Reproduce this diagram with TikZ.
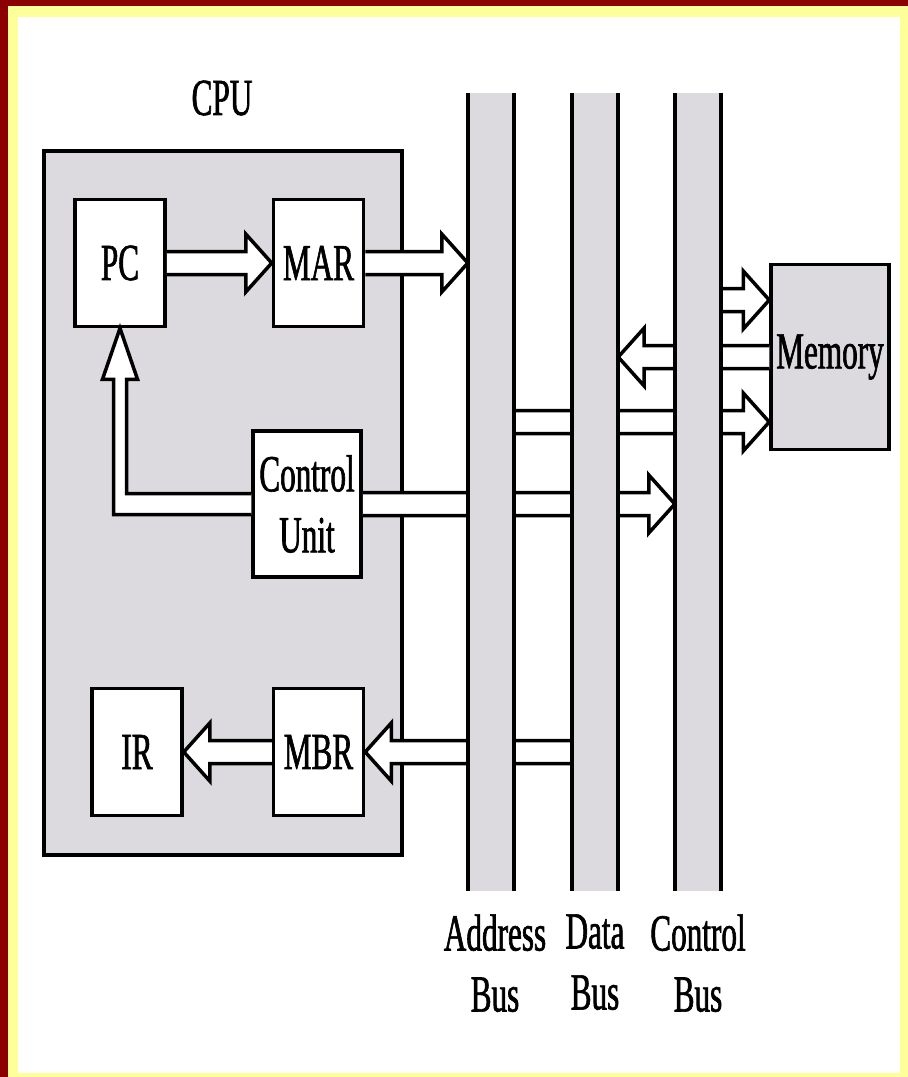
\documentclass[tikz,border=0pt]{standalone}
\usepackage{fontspec}
\newfontfamily\narrowfont{Liberation Serif}[FakeStretch=0.6, FakeBold=1.2]
\usepackage{tikz}
\usetikzlibrary{calc, positioning}
\definecolor{boxgray}{RGB}{220,218,222}
\definecolor{framered}{RGB}{139,0,0}
\definecolor{frameyellow}{RGB}{255,255,153}
\newcommand{\shaftw}{11.5pt}
\newcommand{\headw}{29pt}
\newcommand{\headl}{26pt}
\tikzstyle{txt} = [font=\fontsize{52}{61}\selectfont\narrowfont, inner sep=0pt]
\tikzstyle{reg} = [rectangle, draw=black, line width=3.5pt, fill=white, minimum width=90pt, minimum height=127pt, txt]
\tikzstyle{cpubox} = [rectangle, draw=black, line width=4pt, fill=boxgray, minimum width=358pt, minimum height=704pt]
\tikzstyle{bus} = [rectangle, inner sep=0pt, minimum width=46pt, minimum height=798pt]
\tikzstyle{busline} = [line width=4pt, black]
\tikzstyle{fat arrow} = [draw=black, line width=3.5pt, fill=white,
  to path={($(\tikztostart)!\shaftw!90:(\tikztotarget)$)
    -- ($(\tikztotarget)!\headl!(\tikztostart)!\shaftw!-90:(\tikztostart)$)
    -- ($(\tikztotarget)!\headl!(\tikztostart)!\headw!-90:(\tikztostart)$)
    -- (\tikztotarget)
    -- ($(\tikztotarget)!\headl!(\tikztostart)!\headw!90:(\tikztostart)$)
    -- ($(\tikztotarget)!\headl!(\tikztostart)!\shaftw!90:(\tikztostart)$)
    -- ($(\tikztostart)!\shaftw!-90:(\tikztotarget)$)}]

\begin{document}
\begin{tikzpicture}[x=1pt, y=-1pt, node distance=105pt]
\useasboundingbox (0,0) rectangle (908,1077);
% frame
\fill[framered] (0,0) rectangle (908,1077);
\fill[frameyellow] (8,6) rectangle (908,1077);
\fill[white] (18,17) rectangle (900,1073);

% cpu and its registers
\node (cpu) [cpubox] at (223,503) {};
\node (cpulabel) [txt] at (222,98) {CPU};
\node (pc) [reg] at (120,263) {PC};
\node (mar) [reg, right=of pc] {MAR};
\node (ctrl) [reg, minimum width=108pt, minimum height=146pt, align=center] at (307,504) {Control\\Unit};
\node (ir) [reg] at (137,752) {IR};
\node (mbr) [reg, right=88pt of ir] {MBR};

% memory
\node (mem) [reg, fill=boxgray, minimum width=118pt, minimum height=185pt] at (830,357) {Memory};
\coordinate (memtop) at ($(mem.west)+(0,-57)$);
\coordinate (membot) at ($(mem.west)+(0,65)$);

% buses (filled after the arrows)
\node (abus) [bus] at (491,492) {};
\node (dbus) [bus] at (595,492) {};
\node (cbus) [bus] at (698,492) {};
\node (alabel) [txt, below=23pt of abus, xshift=4pt, align=center] {Address\\Bus};
\node (dlabel) [txt, below=23pt of dbus, align=center] {Data\\Bus};
\node (clabel) [txt, below=23pt of cbus, align=center] {Control\\Bus};

\draw [fat arrow] (pc.east) to (mar.west);
\draw [fat arrow] (mar.east) to (abus.west |- mar.east);
\draw [fat arrow] (ctrl.east) to (cbus.west |- ctrl.east);
\draw [fat arrow] (mbr.west) to (ir.east);
\draw [fat arrow] (dbus.west |- mbr.west) to (mbr.east);
\draw [fat arrow] (cbus.east |- memtop) to (memtop);
\draw [fat arrow] (mem.west) to (dbus.east |- mem.west);
\draw [fat arrow] (abus.east |- membot) to (membot);
% control unit back to pc
\draw [draw=black, line width=3.5pt, fill=white] ($(ctrl.west)+(0,-10.5)$)
  -- ($(pc.south |- ctrl.west)+(6.5,-10.5)$) -- ($(pc.south)+(6.5,51)$)
  -- ($(pc.south)+(17.5,51)$) -- (pc.south) -- ($(pc.south)+(-17.5,51)$)
  -- ($(pc.south)+(-6.5,51)$) -- ($(pc.south |- ctrl.west)+(-6.5,10.5)$)
  -- ($(ctrl.west)+(0,10.5)$);

\foreach \b in {abus, dbus, cbus} {
  \fill[boxgray] (\b.north west) rectangle (\b.south east);
  \draw[busline] (\b.north west) -- (\b.south west);
  \draw[busline] (\b.north east) -- (\b.south east);
}

\end{tikzpicture}
\end{document}
